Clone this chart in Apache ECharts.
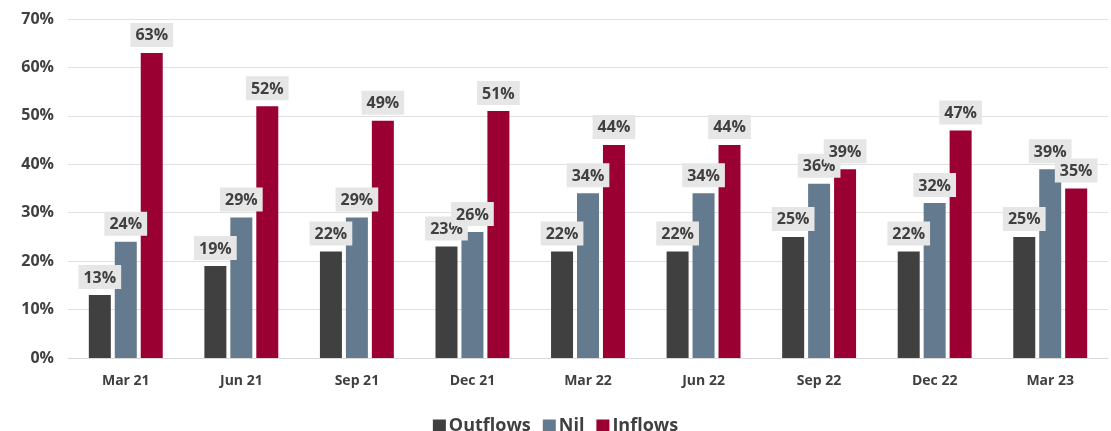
<!DOCTYPE html>
<html>
<head>
<meta charset="utf-8">
<script src="https://cdn.jsdelivr.net/npm/echarts@6/dist/echarts.min.js"></script>
<style>
  html, body { margin: 0; padding: 0; background: #ffffff; }
  #chart { width: 1111px; height: 431px; }
</style>
</head>
<body>
<div id="chart"></div>
<script>
// Quarter labels along the x axis
const categories = ['Mar 21', 'Jun 21', 'Sep 21', 'Dec 21', 'Mar 22', 'Jun 22', 'Sep 22', 'Dec 22', 'Mar 23'];

// Share of respondents (%) per quarter
const outflows = [13, 19, 22, 23, 22, 22, 25, 22, 25];
const nil      = [24, 29, 29, 26, 34, 34, 36, 32, 39];
const inflows  = [63, 52, 49, 51, 44, 44, 39, 47, 35];

const seriesNames = ['Outflows', 'Nil', 'Inflows'];
const colors = ['#404040', '#647a8f', '#9b0033'];

const fontFamily = '"Open Sans", "Noto Sans", sans-serif';
const textColor = '#404040';

const chart = echarts.init(document.getElementById('chart'));

function barSeries(name, data, color) {
  return {
    name: name,
    type: 'bar',
    data: data,
    barWidth: 22,
    barGap: '18%',
    itemStyle: { color: color },
    label: {
      show: true,
      position: 'top',
      distance: 6,
      formatter: p => p.value + '%',
      color: textColor,
      fontFamily: fontFamily,
      fontSize: 16,
      fontWeight: 'bold',
      backgroundColor: '#e6e6e6',
      padding: [5, 5, 3, 5]
    }
  };
}

chart.setOption({
  animation: false,
  textStyle: { fontFamily: fontFamily },
  grid: { left: 68, right: 3, top: 19, bottom: 73 },
  xAxis: {
    type: 'category',
    data: categories,
    axisTick: { show: false },
    axisLine: { lineStyle: { color: '#d9d9d9', width: 1 } },
    axisLabel: {
      color: textColor,
      fontFamily: fontFamily,
      fontSize: 14,
      fontWeight: 'bold',
      margin: 16
    }
  },
  yAxis: {
    type: 'value',
    min: 0,
    max: 70,
    interval: 10,
    axisLabel: {
      formatter: v => v + '%',
      color: textColor,
      fontFamily: fontFamily,
      fontSize: 16,
      fontWeight: 'bold',
      margin: 14
    },
    splitLine: { lineStyle: { color: '#e0e0e0', width: 1 } },
    axisLine: { show: false },
    axisTick: { show: false }
  },
  legend: {
    top: 412,
    left: 'center',
    itemWidth: 13,
    itemHeight: 13,
    itemGap: 12,
    itemStyle: { borderWidth: 0 },
    icon: 'rect',
    textStyle: {
      color: textColor,
      fontFamily: fontFamily,
      fontSize: 18,
      fontWeight: 'bold',
      lineHeight: 18,
      padding: [0, 0, 0, -2]
    },
    data: seriesNames
  },
  series: [
    barSeries(seriesNames[0], outflows, colors[0]),
    barSeries(seriesNames[1], nil, colors[1]),
    barSeries(seriesNames[2], inflows, colors[2])
  ]
});
</script>
</body>
</html>
